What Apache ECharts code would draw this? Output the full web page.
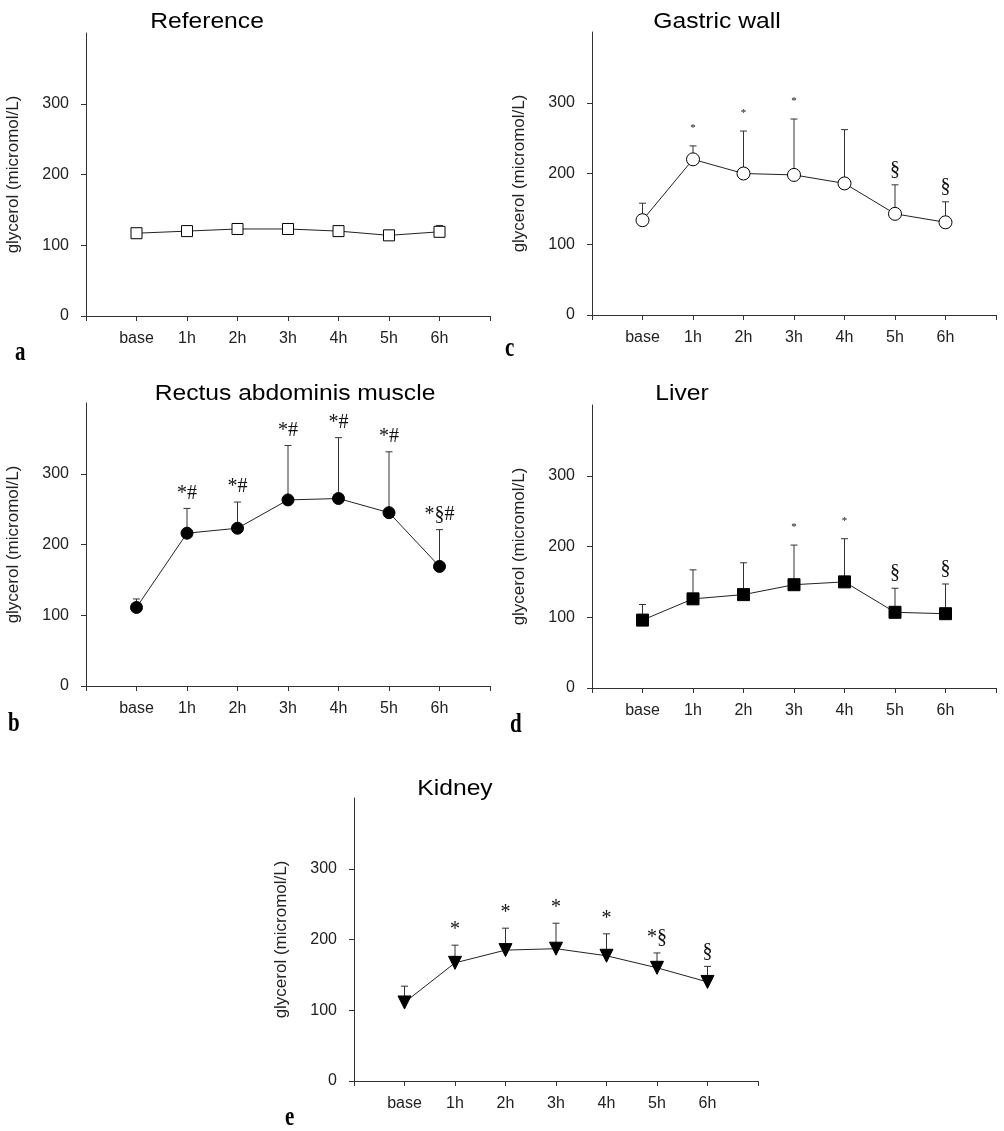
<!DOCTYPE html>
<html>
<head>
<meta charset="utf-8">
<script src="https://cdn.jsdelivr.net/npm/echarts@6/dist/echarts.min.js"></script>
<style>
  html, body { margin: 0; padding: 0; background: #fff; }
  #main { width: 1004px; height: 1131px; }
</style>
</head>
<body>
<div id="main"></div>
<script>
// x categories and y ticks
const HOURS = ['base', '1h', '2h', '3h', '4h', '5h', '6h'];
const Y_TICKS = [0, 100, 200, 300];

// mean values and top of the error bar (mean + SD)
const REF_MEAN = [117, 120, 123, 123, 120, 114, 119];
const REF_UPPER = [122, 124, 127, 127, 124, 121, 128];
const REF_MARKS = ['', '', '', '', '', '', ''];

const GASTRIC_MEAN = [134, 220, 200, 198, 186, 143, 131];
const GASTRIC_UPPER = [158, 239, 260, 277, 262, 184, 160];
const GASTRIC_MARKS = ['', '*', '*', '*', '', '§', '§'];

const RECTUS_MEAN = [111, 216, 223, 263, 265, 245, 169];
const RECTUS_UPPER = [123, 251, 260, 340, 351, 331, 221];
const RECTUS_MARKS = ['', '*#', '*#', '*#', '*#', '*#', '*§#'];

const LIVER_MEAN = [96, 126, 132, 146, 150, 107, 105];
const LIVER_UPPER = [118, 167, 177, 202, 211, 141, 147];
const LIVER_MARKS = ['', '', '', '*', '*', '§', '§'];

const KIDNEY_MEAN = [111, 167, 185, 187, 177, 160, 140];
const KIDNEY_UPPER = [134, 192, 216, 223, 208, 181, 162];
const KIDNEY_MARKS = ['', '*', '*', '*', '*', '*§', '§'];

const SANS = '"Liberation Sans", Arial, sans-serif';
const SERIF = '"Liberation Serif", "Times New Roman", serif';
const INK = '#222';

// one entry per panel: layout + marker style
const PANELS = [
  { title: 'Reference', letter: 'a', mean: REF_MEAN, upper: REF_UPPER, marks: REF_MARKS,
    left: 86, top: 33, titleX: 207, titleY: 22, letterX: 15, letterY: 353,
    symbol: 'rect', fill: '#fff', size: 11, rotate: 0, starSize: 20 },
  { title: 'Gastric wall', letter: 'c', mean: GASTRIC_MEAN, upper: GASTRIC_UPPER, marks: GASTRIC_MARKS,
    left: 592, top: 32, titleX: 717, titleY: 22, letterX: 505, letterY: 349,
    symbol: 'circle', fill: '#fff', size: 13, rotate: 0, starSize: 11 },
  { title: 'Rectus abdominis muscle', letter: 'b', mean: RECTUS_MEAN, upper: RECTUS_UPPER, marks: RECTUS_MARKS,
    left: 86, top: 403, titleX: 295, titleY: 394, letterX: 8, letterY: 724,
    symbol: 'circle', fill: '#000', size: 12, rotate: 0, starSize: 20 },
  { title: 'Liver', letter: 'd', mean: LIVER_MEAN, upper: LIVER_UPPER, marks: LIVER_MARKS,
    left: 592, top: 405, titleX: 682, titleY: 394, letterX: 510, letterY: 725,
    symbol: 'rect', fill: '#000', size: 12, rotate: 0, starSize: 11 },
  { title: 'Kidney', letter: 'e', mean: KIDNEY_MEAN, upper: KIDNEY_UPPER, marks: KIDNEY_MARKS,
    left: 354, top: 798, titleX: 455, titleY: 789, letterX: 285, letterY: 1118,
    symbol: 'triangle', fill: '#000', size: 13, rotate: 180, starSize: 20 }
];

// error bar (upward only) with cap, plus the significance marks above it
function errorBar(p) {
  return function(params, api) {
    const x = api.value(0);
    const low = api.coord([x, api.value(1)]);
    const high = api.coord([x, api.value(2)]);
    const children = [
      { type: 'line', shape: { x1: low[0], y1: low[1], x2: high[0], y2: high[1] },
        style: { stroke: '#333', lineWidth: 1 } },
      { type: 'line', shape: { x1: high[0] - 3.5, y1: high[1], x2: high[0] + 3.5, y2: high[1] },
        style: { stroke: '#333', lineWidth: 1 } }
    ];
    const mark = p.marks[params.dataIndex];
    if (mark) {
      const tiny = mark === '*' && p.starSize < 12;
      children.push({
        type: 'text', x: high[0], y: high[1] - (tiny ? 12 : 5),
        style: { text: mark, fontSize: tiny ? p.starSize : 20, fontFamily: SERIF,
          fill: '#111', align: 'center', verticalAlign: 'bottom' }
      });
    }
    return { type: 'group', children: children };
  };
}

const chart = echarts.init(document.getElementById('main'));

const option = {
  animation: false,
  backgroundColor: '#fff',
  grid: PANELS.map(p => ({ left: p.left, top: p.top, width: 404, height: 283 })),
  xAxis: PANELS.map((p, i) => ({
    type: 'value', gridIndex: i, min: -1, max: 7, interval: 1,
    splitLine: { show: false },
    axisLine: { onZero: false, lineStyle: { color: '#333', width: 1 } },
    axisTick: { length: 5, lineStyle: { color: '#333' } },
    axisLabel: {
      margin: 15, color: INK, fontSize: 16, fontFamily: SANS,
      formatter: v => HOURS[v] || ''
    }
  })),
  yAxis: PANELS.map((p, i) => ({
    type: 'value', gridIndex: i, min: 0, max: 400,
    name: 'glycerol (micromol/L)', nameLocation: 'middle', nameGap: 64,
    nameTextStyle: { color: INK, fontSize: 17, fontFamily: SANS },
    splitLine: { show: false },
    axisLine: { show: true, onZero: false, lineStyle: { color: '#333', width: 1 } },
    axisTick: { show: true, length: 5, customValues: Y_TICKS, lineStyle: { color: '#333' } },
    axisLabel: { margin: 17, color: INK, fontSize: 16, fontFamily: SANS, customValues: Y_TICKS }
  })),
  series: PANELS.flatMap((p, i) => [
    {
      type: 'custom', xAxisIndex: i, yAxisIndex: i, z: 1,
      renderItem: errorBar(p),
      encode: { x: 0, y: 1 },
      data: p.mean.map((m, k) => [k, m, p.upper[k]])
    },
    {
      type: 'line', xAxisIndex: i, yAxisIndex: i, z: 3,
      symbol: p.symbol, symbolSize: p.size, symbolRotate: p.rotate,
      showAllSymbol: true,
      lineStyle: { color: INK, width: 1 },
      itemStyle: { color: p.fill, borderColor: '#000', borderWidth: 1, opacity: 1 },
      data: p.mean.map((m, k) => [k, m])
    }
  ]),
  graphic: PANELS.flatMap(p => [
    { type: 'text', x: p.titleX, y: p.titleY, scaleX: 1.12,
      style: { text: p.title, font: '22px ' + SANS, fill: '#000', align: 'center', verticalAlign: 'middle' } },
    { type: 'text', x: p.letterX, y: p.letterY, scaleY: 1.25,
      style: { text: p.letter, font: 'bold 21px ' + SERIF, fill: '#000', align: 'left', verticalAlign: 'middle' } }
  ])
};

chart.setOption(option);
</script>
</body>
</html>
